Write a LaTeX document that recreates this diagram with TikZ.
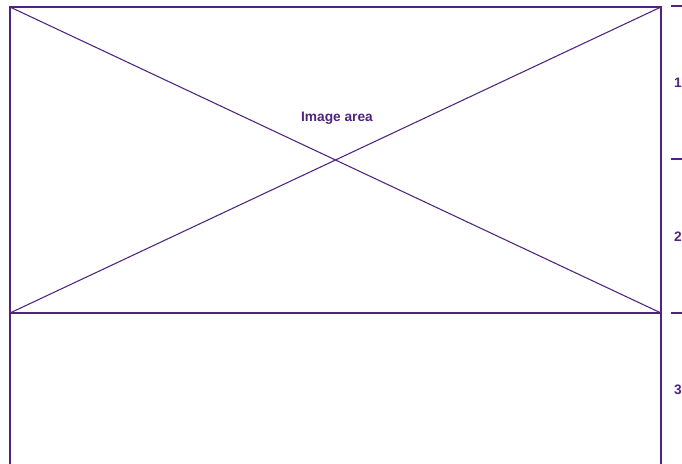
\documentclass[tikz,border=0pt]{standalone}
\usepackage{fontspec}
\setmainfont{Liberation Sans}
\definecolor{pur}{RGB}{78,36,128}
\begin{document}
\begin{tikzpicture}[x=0.75pt,y=-0.75pt,
  frame/.style={draw=pur,line width=1.6pt},
  thin/.style={draw=pur,line width=0.8pt},
  lbl/.style={text=pur,font=\bfseries\fontsize{10.3}{12}\selectfont,inner sep=0pt}]
\useasboundingbox (0,0) rectangle (682,464);
\coordinate (tl) at (10,7);
\coordinate (tr) at (661,7);
\coordinate (ml) at (10,313);
\coordinate (mr) at (661,313);
\coordinate (bl) at (10,464);
\coordinate (br) at (661,464);
\draw[thin] (tl) -- (mr);
\draw[thin] (ml) -- (tr);
\draw[frame] (bl) -- (tl) -- (tr) -- (br);
\draw[frame] (ml) -- (mr);
\coordinate (t1a) at (671,6); \coordinate (t1b) at (682,6);
\coordinate (t2a) at (671,159); \coordinate (t2b) at (682,159);
\coordinate (t3a) at (671,313); \coordinate (t3b) at (682,313);
\draw[frame] (t1a) -- (t1b);
\draw[thin] (t2a) -- (t2b);
\draw[thin] (t3a) -- (t3b);
\node[lbl] (img) at (337,118) {Image area};
\node[lbl] (n1) at (678,83) {1};
\node[lbl] (n2) at (678,237) {2};
\node[lbl] (n3) at (678,390) {3};
\end{tikzpicture}
\end{document}
